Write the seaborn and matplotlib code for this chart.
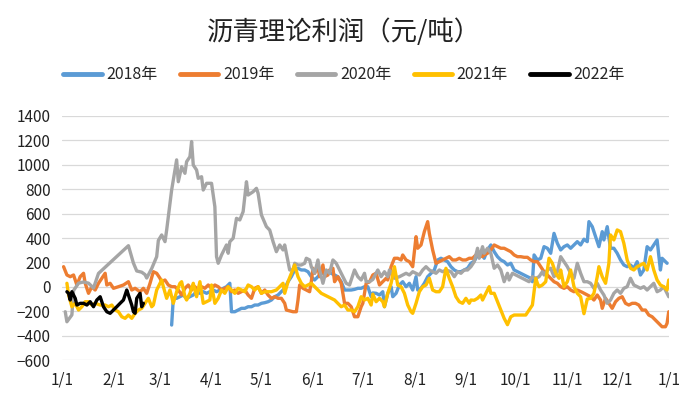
import pandas as pd
import matplotlib.pyplot as plt
import matplotlib.dates as mdates
from matplotlib.ticker import FuncFormatter
import seaborn as sns

# day of year (0 = 1/1) and theoretical profit (yuan/ton)
days_2018 = [66, 67, 69, 71, 73, 75, 77, 79, 81, 83, 85, 87, 89, 91, 93, 95, 97, 99, 101, 102,
             104, 106, 108, 110, 112, 114, 116, 118, 120, 122, 124, 126, 128, 130, 132, 134, 136, 138, 140, 142,
             144, 146, 148, 150, 152, 154, 156, 158, 160, 162, 164, 166, 168, 170, 172, 174, 176, 178, 180, 182,
             184, 186, 187, 189, 191, 193, 194, 196, 198, 199, 201, 203, 205, 207, 209, 211, 213, 214, 216, 218,
             220, 222, 224, 226, 228, 230, 232, 234, 236, 238, 240, 242, 244, 246, 248, 250, 252, 254, 256, 258,
             260, 262, 264, 266, 268, 270, 272, 274, 276, 278, 280, 282, 283, 284, 286, 288, 290, 292, 294, 296,
             298, 300, 302, 304, 306, 308, 310, 312, 314, 316, 317, 319, 321, 323, 325, 326, 328, 330, 332, 334,
             336, 338, 340, 342, 344, 346, 348, 350, 352, 354, 356, 358, 360, 361, 363, 364]
profit_2018 = [-313, -94, -94, -81, -67, -94, -81, -67, -40, -53, -40, -53, -40, -26, -40, -26, -12, 1, 29, -204,
               -204, -190, -176, -176, -163, -163, -149, -149, -135, -130, -122, -108, -81, -67, -40, -12, 42, 83, 138, 152,
               138, 138, 124, 83, 56, 83, 111, 111, 124, 111, 97, 83, 42, -26, -26, -26, -21, -12, -12, 1,
               1, -81, -50, -53, -67, -40, -163, -53, 1, -81, -53, 15, 42, 1, 29, -26, 83, -26, -12, 29,
               83, 111, 138, 220, 234, 220, 206, 165, 138, 124, 124, 138, 152, 193, 210, 260, 288, 234, 302, 343,
               288, 247, 220, 206, 179, 193, 138, 124, 111, 97, 83, 70, 42, 261, 220, 234, 329, 316, 275, 438,
               357, 302, 329, 343, 316, 343, 370, 343, 390, 370, 534, 493, 411, 329, 452, 384, 493, 316, 316, 275,
               220, 179, 165, 179, 152, 206, 97, 138, 329, 302, 343, 384, 138, 234, 206, 193]

days_2019 = [1, 3, 5, 7, 9, 11, 13, 14, 16, 18, 20, 22, 24, 26, 27, 29, 31, 34, 37, 40,
             42, 44, 47, 49, 51, 53, 55, 57, 59, 60, 62, 64, 66, 68, 70, 72, 74, 76, 78, 80,
             82, 84, 86, 88, 90, 92, 94, 96, 98, 100, 102, 104, 106, 108, 110, 112, 114, 116, 118, 120,
             122, 124, 126, 128, 130, 132, 134, 135, 139, 141, 142, 143, 145, 147, 149, 150, 151, 152, 154, 155,
             157, 158, 160, 161, 163, 164, 166, 168, 170, 172, 174, 176, 178, 180, 181, 183, 185, 187, 189, 191,
             193, 195, 196, 198, 200, 202, 204, 205, 207, 209, 211, 213, 214, 216, 218, 220, 221, 223, 225, 227,
             229, 231, 233, 235, 237, 239, 241, 243, 245, 247, 249, 251, 253, 254, 256, 258, 260, 262, 264, 266,
             268, 270, 272, 274, 276, 278, 280, 282, 284, 286, 288, 290, 292, 294, 296, 298, 300, 302, 304, 306,
             308, 310, 313, 316, 318, 320, 322, 324, 325, 327, 329, 331, 333, 335, 337, 339, 341, 343, 345, 347,
             349, 351, 353, 355, 357, 359, 361, 363, 364, 365]
profit_2019 = [165, 97, 83, 97, 15, 83, 111, 29, -53, 1, -26, 29, 70, 111, 15, 29, -12, 1, 15, 42,
               -26, -12, -40, -12, -53, 29, 124, 111, 70, 42, 56, 15, 1, 1, -26, -67, -12, 15, -26, 1,
               -26, 1, -12, 15, -12, 15, 1, -26, -12, 1, -40, -26, -53, -40, -26, -67, -94, -12, 1, -53,
               -26, -67, -94, -81, -94, -94, -135, -190, -204, -204, -108, 15, -12, -26, -40, 42, 152, 111, 165, 83,
               179, 83, 97, 138, 152, 42, 83, 29, -135, -135, -163, -245, -245, -163, -135, 29, 40, 97, 111, 15,
               42, 70, 56, 165, 234, 234, 220, 261, 220, 206, 165, 411, 316, 343, 452, 534, 438, 302, 193, 206,
               220, 234, 247, 220, 220, 234, 220, 220, 234, 234, 261, 261, 247, 261, 275, 302, 343, 329, 316, 316,
               302, 288, 261, 247, 247, 242, 242, 220, 206, 206, 165, 124, 97, 70, 42, 29, 1, -12, 1, -26,
               -40, -26, -45, -67, -81, -108, -67, -108, -176, -94, -135, -176, -122, -94, -81, -135, -149, -135, -135, -149,
               -190, -190, -231, -245, -272, -299, -327, -327, -299, -204]

days_2020 = [2, 3, 6, 7, 10, 13, 16, 19, 22, 40, 43, 45, 48, 50, 51, 54, 57, 58, 60, 62,
             63, 66, 69, 70, 72, 74, 75, 77, 78, 79, 81, 82, 84, 85, 87, 90, 92, 93, 94, 96,
             99, 100, 101, 103, 105, 107, 109, 111, 112, 115, 117, 118, 120, 123, 125, 127, 129, 131, 133, 134,
             137, 139, 140, 142, 144, 146, 147, 149, 150, 152, 154, 155, 157, 159, 161, 163, 165, 167, 169, 171,
             173, 176, 178, 180, 182, 183, 185, 187, 190, 192, 194, 196, 197, 200, 203, 205, 207, 209, 211, 213,
             215, 217, 219, 221, 223, 225, 227, 229, 231, 234, 236, 238, 240, 242, 244, 246, 248, 250, 251, 253,
             254, 256, 258, 260, 262, 264, 266, 268, 269, 271, 273, 275, 277, 279, 281, 283, 285, 287, 289, 290,
             292, 294, 296, 298, 300, 302, 304, 306, 308, 310, 312, 314, 316, 318, 320, 322, 324, 326, 328, 330,
             332, 334, 336, 338, 340, 342, 344, 346, 348, 350, 352, 354, 356, 358, 360, 362, 364, 365]
profit_2020 = [-204, -286, -230, -30, 30, 40, 30, -10, 110, 337, 195, 130, 120, 100, 72, 150, 247, 380, 425, 370,
               465, 793, 1040, 861, 984, 930, 1025, 1066, 1190, 998, 957, 889, 902, 793, 848, 848, 656, 247, 193, 261,
               343, 275, 370, 398, 561, 548, 616, 861, 752, 779, 807, 766, 589, 493, 465, 370, 288, 343, 302, 343,
               138, 138, 193, 179, 179, 193, 234, 220, 165, 111, 220, 138, 29, 138, 111, 220, 193, 138, 83, 29,
               15, 138, 83, 56, 111, 42, 42, 60, 138, 83, 124, 83, 138, 70, 83, 97, 111, 97, 124, 111,
               97, 138, 165, 138, 124, 111, 138, 124, 138, 124, 83, 124, 111, 138, 138, 165, 206, 316, 234, 329,
               275, 316, 275, 152, 179, 138, 42, 111, 56, 111, 97, 83, 70, 56, 42, 83, 70, 83, 124, 97,
               138, 152, 83, 124, 247, 206, 165, 111, 70, 193, 111, 42, 42, 29, -12, 29, -26, -67, -135, -108,
               -53, -26, -53, -12, 1, 70, 15, 1, -12, 1, -26, 1, 29, -40, -26, 1, -53, -81]

days_2021 = [3, 4, 6, 8, 10, 12, 14, 16, 18, 20, 23, 26, 28, 30, 32, 34, 36, 38, 40, 42,
             44, 46, 48, 50, 52, 54, 55, 57, 59, 60, 61, 63, 65, 67, 69, 71, 72, 74, 75, 77,
             79, 81, 83, 85, 87, 89, 90, 92, 94, 96, 98, 100, 102, 104, 106, 108, 110, 112, 114, 116,
             118, 120, 122, 124, 126, 129, 131, 133, 134, 136, 138, 140, 142, 144, 146, 148, 150, 152, 154, 156,
             158, 160, 162, 164, 166, 168, 170, 172, 174, 176, 178, 180, 182, 184, 186, 187, 189, 191, 193, 194,
             196, 198, 200, 202, 204, 206, 208, 210, 211, 213, 215, 217, 219, 221, 223, 225, 227, 229, 231, 233,
             235, 237, 239, 241, 243, 245, 246, 248, 250, 252, 253, 255, 257, 258, 260, 262, 264, 266, 268, 270,
             272, 274, 277, 279, 281, 283, 285, 286, 287, 289, 291, 293, 295, 297, 299, 300, 302, 304, 306, 308,
             310, 312, 314, 316, 318, 320, 322, 323, 325, 327, 329, 330, 332, 334, 336, 338, 340, 342, 344, 346,
             348, 350, 352, 354, 356, 358, 360, 362, 364, 365]
profit_2021 = [29, -67, -163, -135, -190, -163, -122, -122, -149, -135, -149, -149, -163, -149, -190, -204, -245, -258, -231, -258,
               -217, -190, -176, -135, -94, -163, -149, -26, 30, 56, 1, -94, -26, -135, -40, 29, 42, -81, -108, -53,
               29, -81, 42, -135, -122, -108, 15, -135, -94, -26, -53, 1, -26, -53, -12, -26, -40, 15, 1, -26,
               1, -53, -40, -40, -40, -26, 1, 29, -53, 42, 111, 179, 83, 29, 1, 15, 29, 1, -26, -53,
               -67, -81, -94, -108, -135, -163, -149, -190, -190, -204, -163, -81, -108, -94, -149, -60, -122, -94, -122, -163,
               -53, 29, 165, 15, 1, -53, -149, -204, -217, -135, -40, 1, 15, 70, -26, -40, -40, 1, 152, 70,
               1, -81, -122, -135, -94, -135, -108, -110, -94, -67, -108, -53, 1, -53, -53, -122, -190, -258, -310, -245,
               -231, -231, -231, -231, -190, -149, 70, 29, 1, 15, 42, 234, 193, 111, 70, 138, 1, 42, 138, 1,
               -53, -81, -220, -100, -94, -53, 83, 165, 83, 29, 193, 425, 384, 466, 452, 357, 220, 152, 138, 165,
               179, 193, 138, 247, 138, 56, 15, 1, -26, 56]

days_2022 = [3, 4, 5, 6, 8, 9, 11, 13, 15, 17, 19, 21, 23, 25, 27, 29, 31, 33, 35, 37,
             39, 40, 42, 43, 44, 45, 47, 48, 49]
profit_2022 = [-40, -53, -108, -40, -94, -149, -135, -135, -149, -122, -163, -108, -81, -163, -204, -217, -190, -163, -135, -108,
               -26, -67, -149, -204, -217, -94, -53, -163, -135]

years = ['2018年', '2019年', '2020年', '2021年', '2022年']
colors = ['#5B9BD5', '#ED7D31', '#A5A5A5', '#FFC000', '#000000']
all_days = [days_2018, days_2019, days_2020, days_2021, days_2022]
all_profit = [profit_2018, profit_2019, profit_2020, profit_2021, profit_2022]

# put every year on the same calendar so the lines overlay
base = pd.Timestamp('2021-01-01')
frames = []
for name, d, v in zip(years, all_days, all_profit):
    frames.append(pd.DataFrame({'date': base + pd.to_timedelta(d, unit='D'),
                                'profit': v, 'year': name}))
df = pd.concat(frames, ignore_index=True)

sns.set_style('white')
plt.rcParams['font.family'] = ['Noto Sans CJK SC', 'DejaVu Sans']

fig = plt.figure(figsize=(6.88, 3.97), dpi=100)
ax = fig.add_axes([0.090, 0.093, 0.882, 0.615])

sns.lineplot(data=df, x='date', y='profit', hue='year', hue_order=years,
             palette=colors, linewidth=2.4, estimator=None, ax=ax)

ax.set_ylim(-600, 1400)
ax.set_yticks(range(-600, 1401, 200))
ax.set_xlim(base, pd.Timestamp('2022-01-01'))
ax.xaxis.set_major_locator(mdates.MonthLocator())
ax.xaxis.set_major_formatter(FuncFormatter(
    lambda v, pos: f"{mdates.num2date(v).month}/{mdates.num2date(v).day}"))
ax.grid(axis='y', color='#D9D9D9', linewidth=0.9)
ax.set_axisbelow(True)
for s in ax.spines.values():
    s.set_visible(False)
ax.tick_params(axis='both', length=0, labelsize=11, colors='#222222')
ax.tick_params(axis='y', pad=8)
ax.tick_params(axis='x', pad=8)
ax.set_xlabel('')
ax.set_ylabel('')

sns.move_legend(ax, 'center', bbox_to_anchor=(0.5, 1 - 75 / 397),
                bbox_transform=fig.transFigure, ncol=5, frameon=False, title=None,
                fontsize=11.5, handlelength=2.4, columnspacing=1.4, handletextpad=0.3)
for h in ax.get_legend().get_lines():
    h.set_linewidth(3.5)

fig.text(0.5, 1 - 32 / 397, '沥青理论利润（元/吨）', ha='center', va='center',
         fontsize=19, color='#222222')

fig.savefig('out.png', dpi=100)
print("Generated out.png")
